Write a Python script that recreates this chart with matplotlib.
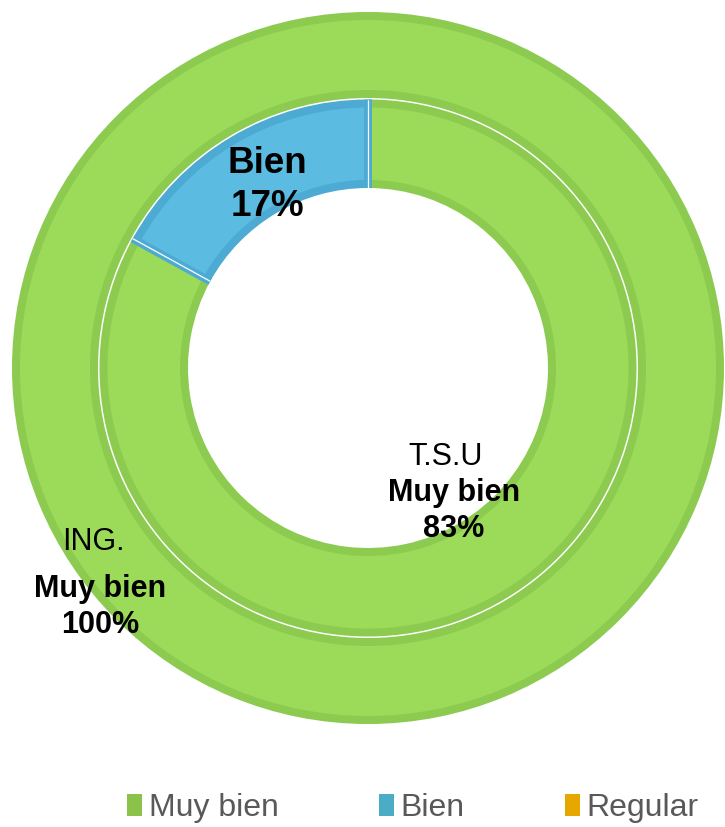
import numpy as np
import matplotlib.pyplot as plt
from matplotlib.patches import Patch

plt.rcParams['font.family'] = ['Liberation Sans', 'DejaVu Sans']

# data
categories = ['Muy bien', 'Bien', 'Regular']
ing_vals = [100, 0, 0]   # outer ring
tsu_vals = [83, 17, 0]   # inner ring

fill_cols = ['#9BDB59', '#5BBBE1', '#F0B400']
edge_cols = ['#8CCB50', '#4DAAD3', '#DDA500']
legend_cols = ['#8BC34A', '#4BACC6', '#E6A800']

fig = plt.figure(figsize=(7.25, 8.27), dpi=100)
ax = fig.add_axes([0, 0, 1, 1])

cx, cy = 368, 827 - 368
edge_px = 8  # border band drawn centred on the wedge outline


def ring(values, r_out, r_in):
    # shrink by half the edge so the visible ring spans r_in..r_out
    idx = [i for i, v in enumerate(values) if v > 0]
    radius = r_out - edge_px / 2
    width = (r_out - r_in) - edge_px
    wedges, _ = ax.pie([values[i] for i in idx], colors=[fill_cols[i] for i in idx],
                       radius=radius, center=(cx, cy), startangle=90, counterclock=False,
                       wedgeprops=dict(width=width, linewidth=edge_px * 0.72))
    for w, i in zip(wedges, idx):
        w.set_edgecolor(edge_cols[i])
    # thin white line between neighbouring wedges
    if len(idx) > 1:
        for w in wedges:
            a = np.deg2rad(w.theta1)
            ax.plot([cx + r_in * np.cos(a), cx + r_out * np.cos(a)],
                    [cy + r_in * np.sin(a), cy + r_out * np.sin(a)],
                    color='white', lw=0.9, solid_capstyle='butt')
    return wedges


ring(ing_vals, 356, 270)
ring(tsu_vals, 268.5, 180)

ax.set_xlim(0, 725)
ax.set_ylim(0, 827)
ax.set_aspect('equal')
ax.axis('off')

# labels
ax.text(267, 827 - 185, f"{categories[1]}\n{tsu_vals[1]}%", ha='center', va='center',
        fontsize=26.5, fontweight='bold', linespacing=1.27)
ax.text(446, 827 - 457, "T.S.U", ha='center', va='center', fontsize=22)
ax.text(454, 827 - 511, f"{categories[0]}\n{tsu_vals[0]}%", ha='center', va='center',
        fontsize=22, fontweight='bold', linespacing=1.3)
ax.text(93, 827 - 542, "ING.", ha='center', va='center', fontsize=22)
ax.text(100, 827 - 607, f"{categories[0]}\n{ing_vals[0]}%", ha='center', va='center',
        fontsize=22, fontweight='bold', linespacing=1.3)

handles = [Patch(facecolor=c, edgecolor='none') for c in legend_cols]
fig.legend(handles, categories, loc='center', bbox_to_anchor=(413 / 725, 1 - 808 / 827),
           ncol=3, frameon=False, fontsize=23, handlelength=0.47, handleheight=0.7,
           handletextpad=0.22, columnspacing=3.12, labelcolor='#595959')

fig.savefig('out.png', dpi=100)
